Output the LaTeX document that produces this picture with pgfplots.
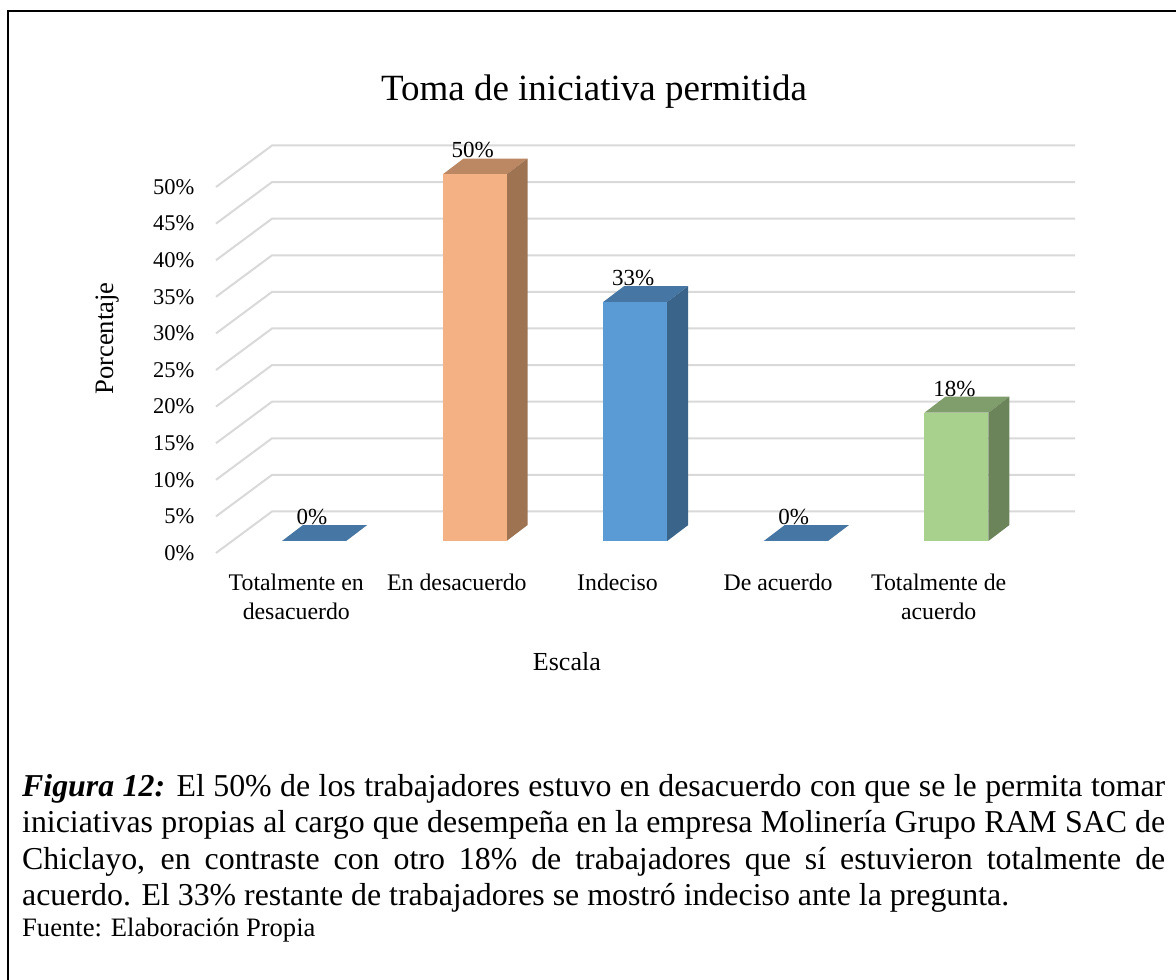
\documentclass[border=0pt]{standalone}
\usepackage{fontspec}
\setmainfont{Liberation Serif}
\usepackage{pgfplots}
\pgfplotsset{compat=1.18}
\definecolor{gridc}{HTML}{D9D9D9}
\definecolor{oF}{HTML}{F4B183}\definecolor{oT}{HTML}{BC8763}\definecolor{oS}{HTML}{9E7352}
\definecolor{bF}{HTML}{5B9BD5}\definecolor{bT}{HTML}{4676A3}\definecolor{bS}{HTML}{3A6489}
\definecolor{gF}{HTML}{A9D18E}\definecolor{gT}{HTML}{7F9E6B}\definecolor{gS}{HTML}{6B845A}
\newcommand{\fs}[1]{\fontsize{#1}{#1}\selectfont}
% x, value, label, front, top, side
\newcommand{\threeD}[6]{%
  \addplot[fill=#5,draw=none] coordinates {(#1-0.1993,#2) (#1+0.1993,#2) (#1+0.3301,#2+2.18) (#1-0.0685,#2+2.18)};
  \addplot[fill=#6,draw=none] coordinates {(#1+0.1993,0) (#1+0.3301,2.18) (#1+0.3301,#2+2.18) (#1+0.1993,#2)};
  \addplot[ybar,bar width=64pt,bar shift=0pt,fill=#4,draw=none] coordinates {(#1,#2)};
  \node[font=\fs{23},inner sep=0pt,yshift=24pt,xshift=-2pt] at (axis cs:#1,#2) {#3};
}
\begin{document}
\begin{tikzpicture}[x=1pt,y=1pt]
\useasboundingbox (0,0) rectangle (1176,980);
\fill[white] (0,0) rectangle (1176,980);
\draw[black,line width=2.2pt] (8,0) -- (8,969) -- (1176,969);
% frame axis
\begin{axis}[
  scale only axis,width=803pt,height=366pt,
  at={(216pt,427pt)},anchor=south west,
  xmin=-0.5,xmax=4.5,ymin=0,ymax=50,
  clip=false,
  axis line style={draw=none},
  major tick style={draw=none},
  xtick={0,1,2,3,4},
  xticklabels={{Totalmente en\\desacuerdo},{En desacuerdo},{Indeciso},{De acuerdo},{Totalmente de\\acuerdo}},
  x tick label style={font=\fontsize{23.8}{29}\selectfont,align=center,anchor=north,yshift=-17pt},
  ytick={0,5,...,50},
  yticklabels={0\%,5\%,10\%,15\%,20\%,25\%,30\%,35\%,40\%,45\%,50\%},
  y tick label style={font=\fs{22.5},anchor=east,xshift=-18pt},
  title={Toma de iniciativa permitida},
  title style={font=\fs{37},at={(axis description cs:0.4707,1.2432)},anchor=center},
  xlabel={Escala},
  xlabel style={font=\fs{26},at={(axis description cs:0.437,-0.2978)},anchor=center},
  ylabel={Porcentaje},
  ylabel style={font=\fs{26.6},at={(axis description cs:-0.1345,0.586)},anchor=center},
]
\pgfplotsinvokeforeach{0,5,...,50}{
  \addplot[gridc,line width=2pt] coordinates {(-0.5,#1) (-0.1513,#1+5.67) (4.8487,#1+5.67)};
}
\end{axis}
% bars axis
\begin{axis}[
  scale only axis,width=803pt,height=366.5pt,
  at={(233.7pt,439pt)},anchor=south west,
  xmin=-0.5,xmax=4.5,ymin=0,ymax=50,
  clip=false,hide axis,
]
\threeD{0}{0}{0\%}{bF}{bT}{bS}
\threeD{1}{50}{50\%}{oF}{oT}{oS}
\threeD{2}{32.6}{33\%}{bF}{bT}{bS}
\threeD{3}{0}{0\%}{bF}{bT}{bS}
\threeD{4}{17.5}{18\%}{gF}{gT}{gS}
\end{axis}
\node[anchor=north west,inner sep=0pt,text width=1143pt,align=justify,font=\fontsize{31.85}{36.5}\selectfont] at (22,980-774)
 {\textbf{\textit{Figura 12:}} El 50\% de los trabajadores estuvo en desacuerdo con que se le permita tomar\linebreak
 iniciativas propias al cargo que desempeña en la empresa Molinería Grupo RAM SAC de\linebreak
 Chiclayo, en contraste con otro 18\% de trabajadores que sí estuvieron totalmente de\linebreak
 acuerdo. El 33\% restante de trabajadores se mostró indeciso ante la pregunta.};
\node[anchor=base west,inner sep=0pt,font=\fs{26.6}] at (22,980-937) {Fuente: Elaboración Propia};
\end{tikzpicture}
\end{document}
